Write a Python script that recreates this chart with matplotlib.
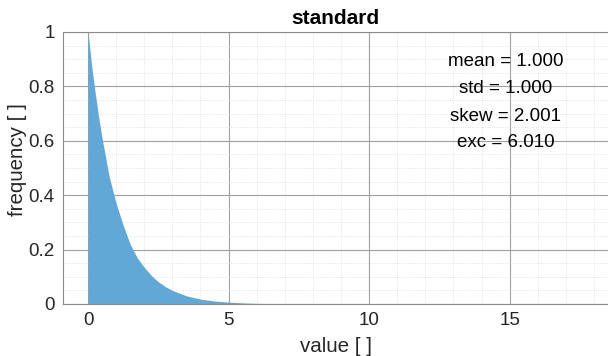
import matplotlib
matplotlib.use("Agg")
import matplotlib.pyplot as plt
from matplotlib.ticker import MultipleLocator

plt.rcParams['font.family'] = ['Liberation Sans', 'DejaVu Sans']

# density values
x_vals = [0.0, 0.0, 0.125, 0.25, 0.375, 0.5, 0.75, 1.0, 1.25, 1.5, 1.75, 2.0, 2.25, 2.5, 2.75, 3.0,
          3.5, 4.0, 4.5, 5.0, 5.5, 6.0, 7.0, 8.0, 10.0, 18.5]
y_vals = [0.0, 1.0, 0.88, 0.78, 0.69, 0.61, 0.47, 0.37, 0.29, 0.22, 0.17, 0.135, 0.105, 0.082, 0.064, 0.05,
          0.03, 0.018, 0.011, 0.007, 0.004, 0.0025, 0.001, 0.0003, 0.0, 0.0]
stats_lines = ["mean = 1.000", "std = 1.000", "skew = 2.001", "exc = 6.010"]
stats_y = [0.892, 0.793, 0.691, 0.592]
x_ticks = [0, 5, 10, 15]
y_ticks = [0, 0.2, 0.4, 0.6, 0.8, 1]
y_ticklabels = ["0", "0.2", "0.4", "0.6", "0.8", "1"]

W, H = 608, 356
fig = plt.figure(figsize=(W/100, H/100), dpi=100)
ax = fig.add_axes([63/W, 1-304/H, 1-63/W, (304-32)/H])

ax.fill_between(x_vals, y_vals, 0, color='#62a8d6', linewidth=0)

ax.set_xlim(-0.89, 18.5)
ax.set_ylim(0, 1)
ax.set_xticks(x_ticks)
ax.set_yticks(y_ticks)
ax.set_yticklabels(y_ticklabels)
ax.xaxis.set_minor_locator(MultipleLocator(1))
ax.yaxis.set_minor_locator(MultipleLocator(0.05))
ax.grid(True, which='major', color='#a0a0a0', linewidth=0.8)
ax.grid(True, which='minor', color='#dcdcdc', linewidth=0.6, linestyle=':')
ax.set_axisbelow(True)
ax.tick_params(which='both', length=0, labelsize=13.5, colors='#262626', pad=6)
for s in ['left', 'bottom', 'top']:
    ax.spines[s].set_color('#8a8a8a')
    ax.spines[s].set_linewidth(0.8)
ax.spines['right'].set_visible(False)

ax.set_title("standard", fontsize=15, fontweight='bold', pad=6)
fig.text(336/W, 1-346/H, "value [ ]", fontsize=14.8, color='#262626',
         ha='center', va='center')
fig.text(17.5/W, 1-160/H, "frequency [ ]", fontsize=14.8, color='#262626',
         ha='center', va='center', rotation=90)

for t, yy in zip(stats_lines, stats_y):
    ax.text(14.85, yy, t, ha='center', va='center', fontsize=13.5, color='black')

fig.savefig("out.png", dpi=100)
